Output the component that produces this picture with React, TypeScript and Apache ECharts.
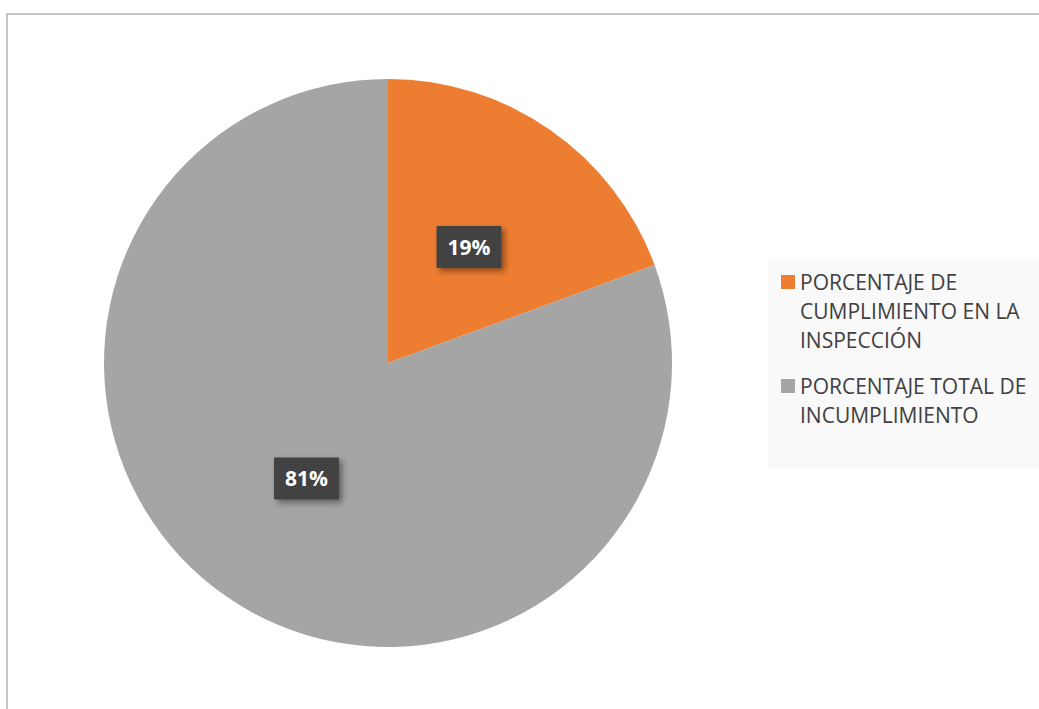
import React, { useEffect, useRef } from "react";
import * as echarts from "echarts";

const categories = [
  "PORCENTAJE DE CUMPLIMIENTO EN LA INSPECCIÓN",
  "PORCENTAJE TOTAL DE INCUMPLIMIENTO",
];
const legendLines = [
  "PORCENTAJE DE\nCUMPLIMIENTO EN LA\nINSPECCIÓN",
  "PORCENTAJE TOTAL DE\nINCUMPLIMIENTO",
];
const values = [19.4, 80.6];
const colors = ["#ED7D31", "#A5A5A5"];
const labelNudges = [
  [-2, 3],
  [1.5, -3.5],
];

const FONT = "'Open Sans', sans-serif";
const LH = 29;

export default function App() {
  const ref = useRef<HTMLDivElement>(null);
  useEffect(() => {
    if (!ref.current) return;
    const chart = echarts.init(ref.current, undefined, { renderer: "svg" });
    const legendFor = (i: number, iconCenterY: number) => {
      const n = legendLines[i].split("\n").length;
      const total = (2 * n - 1) * LH;
      const top = iconCenterY - total / 2;
      const prefix = "\n".repeat(n - 1);
      return {
        show: true,
        orient: "vertical" as const,
        left: 781,
        top,
        padding: 0,
        itemWidth: 14,
        itemHeight: 14,
        icon: "rect",
        selectedMode: false,
        data: [{ name: categories[i] }],
        formatter: () => prefix + legendLines[i],
        textStyle: {
          fontFamily: FONT,
          fontSize: 21,
          color: "#404040",
          lineHeight: LH,
        },
      };
    };
    chart.setOption({
      animation: false,
      backgroundColor: "#ffffff",
      graphic: [
        {
          type: "rect",
          shape: { x: 7, y: 14, width: 1200, height: 900 },
          style: { fill: "none", stroke: "#c4c4c4", lineWidth: 2 },
          silent: true,
          z: -10,
        },
        {
          type: "rect",
          shape: { x: 768, y: 259, width: 300, height: 209 },
          style: { fill: "#f9f9f9" },
          silent: true,
          z: -5,
        },
      ],
      legend: [legendFor(0, 282), legendFor(1, 386)],
      series: [
        {
          type: "pie",
          center: [388, 363],
          radius: [0, 284],
          startAngle: 90,
          clockwise: true,
          data: categories.map((name, i) => ({
            name,
            value: values[i],
            itemStyle: { color: colors[i] },
            label: { offset: labelNudges[i] },
          })),
          label: {
            show: true,
            position: "inside",
            formatter: (p: any) => Math.round(p.percent) + "%",
            fontFamily: FONT,
            fontSize: 21,
            fontWeight: "bold",
            color: "#ffffff",
            backgroundColor: "#434343",
            padding: [11, 11, 10, 11],
            shadowColor: "rgba(0,0,0,0.45)",
            shadowBlur: 6,
            shadowOffsetX: 3,
            shadowOffsetY: 3,
          },
          labelLine: { show: false },
          emphasis: { disabled: true },
        },
      ],
    });
    return () => chart.dispose();
  }, []);
  return (
    <div
      ref={ref}
      style={{ position: "fixed", left: 0, top: 0, width: 1039, height: 709 }}
    />
  );
}
